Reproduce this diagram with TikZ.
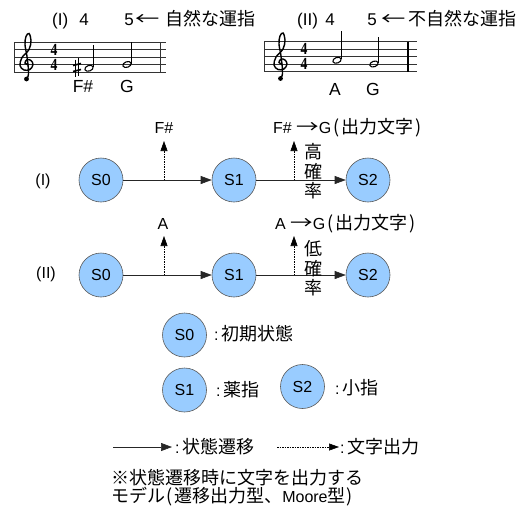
\documentclass[tikz,border=0pt]{standalone}
\usepackage{fontspec}
\setmainfont{Liberation Sans}
\newfontfamily\jp{Noto Sans CJK JP}
\newfontfamily\tserif{Liberation Serif}
\usetikzlibrary{arrows.meta}
\definecolor{stfill}{RGB}{153,204,255}
\newcommand\larr{\scalebox{1.35}[1]{\jp ←}}
\newcommand\rarr{\scalebox{1.25}[1]{\jp\fontsize{18}{18}\selectfont →}}
\newcommand\tsdigit{\scalebox{1.05}[1.3]{4}}
\begin{document}
\begin{tikzpicture}[x=1pt,y=-1pt,
 state/.style={circle,draw=black!65,line width=0.6pt,fill=stfill,minimum size=44pt,inner sep=0pt,font=\fontsize{16}{16}\selectfont},
 trans/.style={-{Triangle[length=11pt,width=8pt]},line width=0.6pt,draw=black!85},
 outp/.style={-{Triangle[length=10pt,width=7pt]},line width=0.6pt,dash pattern=on 1.5pt off 1pt},
 lbl/.style={inner sep=0pt,font=\fontsize{16}{16}\selectfont},
 toplbl/.style={inner sep=0pt,font=\fontsize{17}{17}\selectfont},
 notelbl/.style={inner sep=0pt,font=\fontsize{17.5}{17.5}\selectfont},
 jl/.style={inner sep=0pt,font=\jp\fontsize{18}{18}\selectfont},
 staffline/.style={line width=0.6pt,draw=black!80},
 notehead/.style={line width=1.1pt},
 stem/.style={line width=0.6pt},
 tsig/.style={inner sep=0pt,align=center,font=\tserif\bfseries\fontsize{13}{15}\selectfont},
 clef/.style={line width=1.4pt},
]
\useasboundingbox (0,0) rectangle (521,515);

% ---------- staff I ----------
\foreach \i in {0,...,4} \draw[staffline] (14,{42+7.5*\i}) -- (166,{42+7.5*\i});
\draw[staffline] (14,42) -- (14,72);
\draw[staffline] (160,42) -- (160,72);
\begin{scope}[shift={(27,64.5)}]
 \draw[clef] plot[smooth,tension=0.6] coordinates {(1.5,0.5) (-2,-1.5) (0,-5) (4,-4) (6,0) (3,5) (-3,5.5) (-7,1) (-5,-7) (2,-15) (4,-24) (2,-31) (-1,-28) (-2,-20) (0,-8) (1.5,6) (1,12) (-1,14.5)};
 \fill (-0.5,14.5) circle (2.4);
\end{scope}
\node[tsig] (ts1) at (54,57) {\tsdigit\\\tsdigit};
% sharp
\draw[line width=0.6pt] (75,59.5) -- (75,77) (78.5,58) -- (78.5,75.5);
\draw[line width=1.6pt] (73,65.5) -- (81,63.5) (73,71.5) -- (81,69.5);
\draw[notehead,rotate around={20:(89,68.25)}] (89,68.25) ellipse (4.3 and 2.8);
\draw[stem] (93.2,67) -- (93.2,45);
\draw[notehead,rotate around={20:(127,64.5)}] (127,64.5) ellipse (4.3 and 2.8);
\draw[stem] (131.2,63.5) -- (131.2,41.5);

\node[toplbl,anchor=base west] (t1a) at (52,25) {(I)};
\node[toplbl,anchor=base] (t1b) at (84,25) {4};
\node[toplbl,anchor=base] (t1c) at (129,25) {5};
\node[jl,anchor=base] (t1d) at (148,25) {\larr};
\node[jl,anchor=base west] (t1e) at (165,25) {自然な運指};
\node[notelbl,anchor=base] (n1a) at (83,92) {F\#};
\node[notelbl,anchor=base] (n1b) at (127,92) {G};

% ---------- staff II ----------
\foreach \i in {0,...,4} \draw[staffline] (264,{41.5+7.5*\i}) -- (417,{41.5+7.5*\i});
\draw[staffline] (264,41.5) -- (264,71.5);
\draw[line width=1.6pt] (408,41.5) -- (408,71.5);
\begin{scope}[shift={(281,64)}]
 \draw[clef] plot[smooth,tension=0.6] coordinates {(1.5,0.5) (-2,-1.5) (0,-5) (4,-4) (6,0) (3,5) (-3,5.5) (-7,1) (-5,-7) (2,-15) (4,-24) (2,-31) (-1,-28) (-2,-20) (0,-8) (1.5,6) (1,12) (-1,14.5)};
 \fill (-0.5,14.5) circle (2.4);
\end{scope}
\node[tsig] (ts2) at (304,56.5) {\tsdigit\\\tsdigit};
\draw[notehead,rotate around={20:(337,60.25)}] (337,60.25) ellipse (4.3 and 2.8);
\draw[stem] (341.2,59) -- (341.2,31);
\draw[notehead,rotate around={20:(374,64)}] (374,64) ellipse (4.3 and 2.8);
\draw[stem] (378.2,63) -- (378.2,37);

\node[toplbl,anchor=base west] (t2a) at (297,25) {(II)};
\node[toplbl,anchor=base] (t2b) at (330,25) {4};
\node[toplbl,anchor=base] (t2c) at (372,25) {5};
\node[jl,anchor=base] (t2d) at (394,25) {\larr};
\node[jl,anchor=base west] (t2e) at (408,25) {不自然な運指};
\node[notelbl,anchor=base] (n2a) at (335,95) {A};
\node[notelbl,anchor=base] (n2b) at (373,95) {G};

% ---------- row I ----------
\node[lbl] (r1) at (43,181) {(I)};
\node[state] (a0) at (101,180) {S0};
\node[state] (a1) at (234,180) {S1};
\node[state] (a2) at (368,180) {S2};
\draw[trans] (a0) -- (a1);
\draw[trans] (a1) -- (a2);
\coordinate (p1) at (164,180); \coordinate (q1) at (164,141);
\coordinate (p2) at (294,180); \coordinate (q2) at (294,141);
\draw[outp] (p1) -- (q1);
\draw[outp] (p2) -- (q2);
\node[lbl,anchor=base] (o1) at (164,133.5) {F\#};
\node[lbl,anchor=base west] (o2) at (273,133.5) {F\# \rarr G{\jp\fontsize{18}{18}\selectfont\hspace{2pt}(\hspace{2pt}出力文字\hspace{2pt})}};
\node[jl,align=center,font=\jp\fontsize{18}{19.5}\selectfont] (v1) at (313,171.5) {高\\確\\率};

% ---------- row II ----------
\node[lbl] (r2) at (46,274) {(II)};
\node[state] (b0) at (101,275) {S0};
\node[state] (b1) at (234,275) {S1};
\node[state] (b2) at (368,275) {S2};
\draw[trans] (b0) -- (b1);
\draw[trans] (b1) -- (b2);
\coordinate (p3) at (164,275); \coordinate (q3) at (164,236);
\coordinate (p4) at (294,275); \coordinate (q4) at (294,236);
\draw[outp] (p3) -- (q3);
\draw[outp] (p4) -- (q4);
\node[lbl,anchor=base] (o3) at (163,229.3) {A};
\node[lbl,anchor=base west] (o4) at (275,229.3) {A \rarr G{\jp\fontsize{18}{18}\selectfont\hspace{2pt}(\hspace{2pt}出力文字\hspace{2pt})}};
\node[jl,align=center,font=\jp\fontsize{18}{19.5}\selectfont] (v2) at (313,268.5) {低\\確\\率};

% ---------- legend ----------
\node[state] (l0) at (184.5,335) {S0};
\node[state] (l1) at (184.5,390) {S1};
\node[state] (l2) at (302.5,386.5) {S2};
\node[jl,anchor=west] (lt0) at (214,334) {{\normalfont\fontsize{16}{16}\selectfont :}\,初期状態};
\node[jl,anchor=west] (lt1) at (216,390) {{\normalfont\fontsize{16}{16}\selectfont :}\,薬指};
\node[jl,anchor=west] (lt2) at (335,388) {{\normalfont\fontsize{16}{16}\selectfont :}\,小指};

\coordinate (la1) at (113,447); \coordinate (la2) at (172,447);
\coordinate (lb1) at (277,447); \coordinate (lb2) at (339,447);
\draw[trans] (la1) -- (la2);
\draw[outp] (lb1) -- (lb2);
\node[jl,anchor=west] (lt3) at (175,447) {{\normalfont\fontsize{16}{16}\selectfont :}\,状態遷移};
\node[jl,anchor=west] (lt4) at (340,447) {{\normalfont\fontsize{16}{16}\selectfont :}\,文字出力};

\node[jl,anchor=base west] (note1) at (111,484) {※状態遷移時に文字を出力する};
\node[jl,anchor=base west] (note2) at (111,502) {モデル\hspace{1pt}(\hspace{2pt}遷移出力型、{\normalfont\fontsize{16}{16}\selectfont Moore}型\hspace{1pt})};
\end{tikzpicture}
\end{document}
